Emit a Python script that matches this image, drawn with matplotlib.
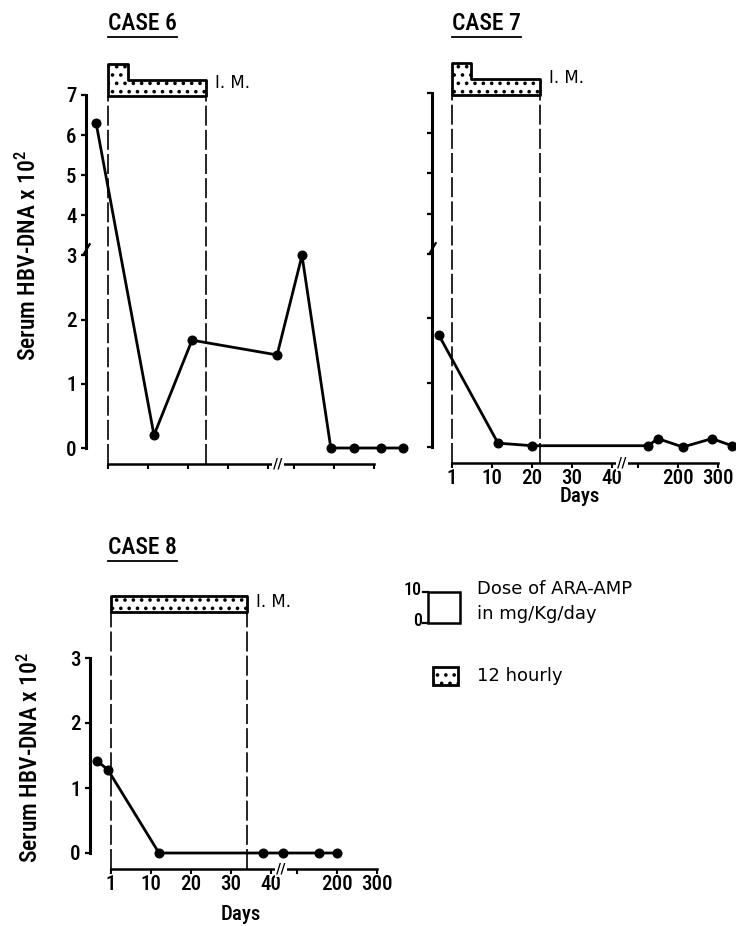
import numpy as np
import matplotlib
matplotlib.use("Agg")
import matplotlib.pyplot as plt
from matplotlib.patches import Rectangle

# === Fontlar ===
NARROW = ["Roboto Condensed", "DejaVu Sans"]
WIDE = ["DejaVu Sans"]
plt.rcParams["font.family"] = NARROW
plt.rcParams["font.weight"] = 500
plt.rcParams["mathtext.fontset"] = "custom"
plt.rcParams["mathtext.rm"] = "Roboto Condensed:weight=500"
plt.rcParams["mathtext.it"] = "Roboto Condensed:weight=500"
plt.rcParams["hatch.linewidth"] = 1.4

# === Veri ===
CASE6_DAYS = [-1.7, 11.5, 21, 61, 120, 192, 250, 318, 372]
CASE6_DNA = [6.3, 0.2, 1.68, 1.45, 3.0, 0.0, 0.0, 0.0, 0.0]

CASE7_DAYS = [-2, 11.5, 20, 125, 150, 212, 285, 335]
CASE7_DNA = [1.74, 0.06, 0.02, 0.02, 0.13, 0.0, 0.13, 0.02]

CASE8_DAYS = [-2.2, 0.3, 12, 38, 68, 155, 200]
CASE8_DNA = [1.42, 1.28, 0.0, 0.0, 0.0, 0.0, 0.0]

# ARA-AMP dozu (mg/Kg/day), step başlangıç günleri
CASE6_DOSE_DAYS = [1, 5.5, 24.5]
CASE6_DOSE = [10, 5, 5]
CASE7_DOSE_DAYS = [1, 5.3, 22]
CASE7_DOSE = [10, 5, 5]
CASE8_DOSE_DAYS = [1, 34]
CASE8_DOSE = [5, 5]

X_TICKS = [1, 10, 20, 30, 40, 100, 200, 300]
X_TICK_LABELS = ["1", "10", "20", "30", "40", "", "200", "300"]
Y_TICKS_67 = [0, 1, 2, 3, 4, 5, 6, 7]
Y_TICKS_8 = [0, 1, 2, 3]

# === Eksen ölçekleri (kırık eksenler) ===
DAY_KNOTS = [-30, 1, 10, 20, 30, 40, 100, 200, 300, 500]
POS_KNOTS = [-136.4, 0, 40, 80, 120, 160, 186, 226, 266, 346]
X_BREAK_DAY = 63
Y_BREAK = 3.15
Y_SQUEEZE = 0.625
SLASH = [(-0.6, -1.0), (0.6, 1.0)]


def x_fwd(d):
    return np.interp(d, DAY_KNOTS, POS_KNOTS)


def x_inv(p):
    return np.interp(p, POS_KNOTS, DAY_KNOTS)


def y_fwd(y):
    y = np.asarray(y, float)
    return np.where(y <= 3, y, 3 + (y - 3) * Y_SQUEEZE)


def y_inv(s):
    s = np.asarray(s, float)
    return np.where(s <= 3, s, 3 + (s - 3) / Y_SQUEEZE)


W, H = 736, 926
fig = plt.figure(figsize=(W / 100, H / 100), dpi=100)


def draw_case(lay, days, dna, dose_days, dose, ytop, yticks, broken_y,
              xlabels, ylabels, im_y):
    # piksel kutusundan eksen
    rect = [lay["spine"] / W, 1 - lay["bottom"] / H,
            (lay["right"] - lay["spine"]) / W, (lay["bottom"] - lay["top"]) / H]
    ax = fig.add_axes(rect)
    ax.patch.set_visible(False)
    ax.set_xscale("function", functions=(x_fwd, x_inv))
    if broken_y:
        ax.set_yscale("function", functions=(y_fwd, y_inv))
        scaled_top = float(y_fwd(ytop))
    else:
        scaled_top = ytop
    ppu = (lay["zero"] - lay["top"]) / scaled_top
    ybot = -(lay["bottom"] - lay["zero"]) / ppu
    ax.set_xlim(float(x_inv(lay["spine"] - lay["x0"])), float(x_inv(lay["right"] - lay["x0"])))
    ax.set_ylim(ybot, ytop)

    for s in ["top", "right"]:
        ax.spines[s].set_visible(False)
    ax.spines["left"].set_bounds(0, ytop)
    ax.spines["left"].set_linewidth(2.2)
    ax.spines["bottom"].set_position(("data", -0.25))
    ax.spines["bottom"].set_bounds(1, 300)
    ax.spines["bottom"].set_linewidth(1.8)

    ax.set_xticks(X_TICKS)
    ax.set_xticklabels(X_TICK_LABELS if xlabels else [""] * len(X_TICKS))
    ax.set_yticks(yticks)
    ax.set_yticklabels([str(t) for t in yticks] if ylabels else [])
    ax.minorticks_off()
    ax.tick_params(axis="x", direction="out", length=3.5, width=1.5, pad=0.5, labelsize=15)
    ax.tick_params(axis="y", direction="out", length=3.8, width=1.6, pad=3, labelsize=15)

    # tedavi süresi kesikli çizgiler
    dose_bottom_scaled = (lay["zero"] - lay["dose_bottom"]) / ppu
    vtop = float(y_inv(dose_bottom_scaled)) if broken_y else dose_bottom_scaled
    ax.vlines([dose_days[0], dose_days[-1]], -0.25, vtop, colors="black",
              linewidth=1.2, linestyles=(0, (12, 2.5)), clip_on=False)

    ax.plot(days, dna, color="black", linewidth=2.0, marker="o", markersize=6.2,
            clip_on=False, zorder=5)

    # kırık işaretleri
    ax.text(X_BREAK_DAY, -0.25, "//", fontsize=11, ha="center", va="center",
            bbox=dict(facecolor="white", edgecolor="none", pad=0.3), zorder=6, clip_on=False)
    if broken_y:
        ax.plot([0], [Y_BREAK], transform=ax.get_yaxis_transform(), marker=SLASH,
                markersize=9, markeredgewidth=1.6, color="black", clip_on=False, zorder=6)

    # doz kutusu
    drect = [rect[0], 1 - lay["dose_bottom"] / H, rect[2], 32 / H]
    axd = fig.add_axes(drect, sharex=ax)
    axd.set_ylim(0, 10)
    axd.axis("off")
    axd.fill_between(dose_days, dose, step="post", facecolor="white", edgecolor="black",
                     hatch="..", linewidth=2.0, clip_on=False)
    axd.annotate("I. M.", xy=(dose_days[-1], im_y), xytext=(9, 0), textcoords="offset pixels",
                 va="center", ha="left", fontsize=12, family=WIDE, fontweight="normal")
    return ax


LAY6 = dict(x0=108, spine=86, right=412, top=95, zero=448, bottom=472, dose_bottom=96)
LAY7 = dict(x0=452, spine=432, right=740, top=93, zero=447, bottom=471, dose_bottom=95)
LAY8 = dict(x0=111, spine=90, right=405, top=658, zero=853, bottom=877, dose_bottom=612)

draw_case(LAY6, CASE6_DAYS, CASE6_DNA, CASE6_DOSE_DAYS, CASE6_DOSE, 7, Y_TICKS_67, True,
          False, True, 4.2)
draw_case(LAY7, CASE7_DAYS, CASE7_DNA, CASE7_DOSE_DAYS, CASE7_DOSE, 7, Y_TICKS_67, True,
          True, False, 5.2)
draw_case(LAY8, CASE8_DAYS, CASE8_DNA, CASE8_DOSE_DAYS, CASE8_DOSE, 3, Y_TICKS_8, False,
          True, True, 3.2)

# === Metinler ve açıklama (piksel koordinatlı katman) ===
lg = fig.add_axes([0, 0, 1, 1])
lg.set_xlim(0, W)
lg.set_ylim(H, 0)
lg.axis("off")
lg.patch.set_visible(False)

renderer = fig.canvas.get_renderer()
for label, x, y in [("CASE 6", 108, 24), ("CASE 7", 452, 24), ("CASE 8", 108, 548)]:
    t = lg.text(x, y, label, fontsize=17, ha="left", va="center")
    bb = t.get_window_extent(renderer)
    lg.plot([x, x + bb.width], [y + 13, y + 13], color="black", linewidth=1.3)

ylab = "Serum HBV-DNA x 10$^{2}$"
lg.text(28, 255, ylab, fontsize=17, rotation=90, ha="center", va="center")
lg.text(30, 757, ylab, fontsize=17, rotation=90, ha="center", va="center")
lg.text(580, 497, "Days", fontsize=15, ha="center", va="center")
lg.text(241, 915, "Days", fontsize=15, ha="center", va="center")

# doz ölçeği açıklaması
lg.add_patch(Rectangle((428, 592), 32, 31, facecolor="white", edgecolor="black", linewidth=1.8))
lg.plot([423, 428], [592, 592], color="black", linewidth=1.6)
lg.plot([423, 428], [623, 623], color="black", linewidth=1.6)
lg.text(422, 590, "10", fontsize=13, ha="right", va="center")
lg.text(422, 621, "0", fontsize=13, ha="right", va="center")
lg.text(477, 594, "Dose of ARA-AMP", fontsize=13, family=WIDE, fontweight="normal",
        ha="left", va="baseline")
lg.text(477, 619, "in mg/Kg/day", fontsize=13, family=WIDE, fontweight="normal",
        ha="left", va="baseline")
lg.add_patch(Rectangle((433, 667), 25, 18, facecolor="white", edgecolor="black",
                       linewidth=2.0, hatch=".."))
lg.text(477, 681, "12 hourly", fontsize=13, family=WIDE, fontweight="normal",
        ha="left", va="baseline")

fig.savefig("out.png", dpi=100)
